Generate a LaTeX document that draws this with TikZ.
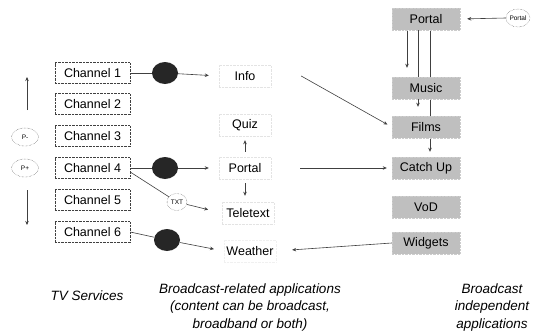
\documentclass[tikz,border=0pt]{standalone}
\usepackage{fontspec}
\setmainfont{Liberation Sans}
\usetikzlibrary{arrows.meta,shapes.geometric,backgrounds}
\begin{document}
\begin{tikzpicture}[x=1pt,y=-1pt,
 every node/.style={font=\fontsize{12.5}{15}\selectfont, inner sep=0pt},
 chan/.style={draw=gray!50!black, densely dotted, fill=white, minimum width=75pt, minimum height=21pt},
 app/.style={draw=gray!22, densely dotted, minimum width=52pt, minimum height=22pt},
 indep/.style={fill=gray!50, draw=gray!40, densely dotted, minimum width=68pt, minimum height=22pt},
 blob/.style={ellipse, fill=black!85, minimum width=26pt, minimum height=22pt},
 tag/.style={ellipse, draw=gray!50!black, densely dotted, fill=white, font=\fontsize{6.5}{7}\selectfont, minimum width=25pt, minimum height=18pt},
 conn/.style={draw=gray!50!black, line width=0.6pt, -{Stealth[length=4pt,width=3.5pt]}},
 plain/.style={draw=gray!50!black, line width=0.6pt},
 captext/.style={font=\fontsize{13.5}{17.5}\selectfont\itshape, align=center},
]
\useasboundingbox (0,0) rectangle (541,332);

% TV services
\node[chan] (ch1) at (92.5,73) {Channel 1};
\node[chan] (ch2) at (92.5,104) {Channel 2};
\node[chan] (ch3) at (92.5,136) {Channel 3};
\node[chan] (ch4) at (92.5,168) {Channel 4};
\node[chan] (ch5) at (92.5,200) {Channel 5};
\node[chan] (ch6) at (92.5,232) {Channel 6};

\node[tag, minimum width=27pt] (pm) at (25,137) {P-};
\node[tag, minimum width=27pt] (pp) at (25,168) {P+};
\coordinate (ua) at (27,110);
\coordinate (ub) at (27,77);
\coordinate (da) at (27,190);
\coordinate (db) at (27,225);
\draw[conn] (ua) -- (ub);
\draw[conn] (da) -- (db);

% broadcast-related apps
\node[app] (info) at (245,76) {Info};
\node[app] (quiz) at (245,125) {Quiz};
\node[app] (aportal) at (245,168) {Portal};
\node[app] (teletext) at (248,213) {Teletext};
\node[app, draw=gray!12] (weather) at (250,251) {Weather};

\node[blob] (b1) at (165,73) {};
\node[blob] (b4) at (165,168) {};
\node[blob] (b6) at (167,240) {};
\node[tag, minimum width=20pt, minimum height=17pt] (txt) at (177,202) {TXT};

% independent apps
\node[indep] (rportal) at (426,19) {Portal};
\node[indep] (music) at (426,88) {Music};
\node[indep] (films) at (426,127) {Films};
\node[indep] (catchup) at (426,168) {Catch Up};
\node[indep] (vod) at (426,207) {VoD};
\node[indep] (widgets) at (426,243) {Widgets};
\node[tag, minimum width=24pt] (pcirc) at (518,18) {Portal};

% connectors
\draw[plain] (ch1.east) -- (b1);
\draw[conn, shorten >=10pt] (b1) -- (info.west);
\draw[plain] (ch4.east) -- (b4);
\draw[conn, shorten >=10pt] (b4) -- (aportal.west);
\draw[plain] ([yshift=-4pt]ch4.east) -- (txt);
\draw[conn, shorten >=14pt] (txt) -- (teletext.west);
\draw[plain] (ch6.east) -- (b6);
\draw[conn, shorten >=10pt] (b6) -- (weather.west);
\draw[conn, shorten <=5pt, shorten >=4pt] (aportal.north) -- (quiz.south);
\draw[conn, shorten <=4pt, shorten >=6pt] (aportal.south) -- (aportal.south |- teletext.north);
\draw[conn, shorten >=5pt] ([xshift=30pt]info.east) -- (films.west);
\draw[conn, shorten >=5pt] ([xshift=29pt]aportal.east) -- (catchup.west);
\draw[conn, shorten >=16pt] (widgets.west) -- (weather.east);
\draw[conn, shorten >=7pt] (pcirc.west) -- (rportal.east);
\begin{scope}[on background layer]
\fill[white] (0,0) rectangle (541,332);
\draw[conn, shorten >=9pt] ([xshift=-19pt]rportal.south) -- ([xshift=-19pt]music.north);
\draw[conn, shorten >=9pt] ([xshift=-8pt]rportal.south) -- ([xshift=-8pt]films.north);
\draw[conn, shorten >=5pt] ([xshift=4pt]rportal.south) -- ([xshift=4pt]catchup.north);
\end{scope}

% captions
\node[captext] (c1) at (87,296) {TV Services};
\node[captext] (c2) at (250,307.5) {Broadcast-related applications\\(content can be broadcast,\\broadband or both)};
\node[captext] (c3) at (492,307.5) {Broadcast\\independent\\applications};
\end{tikzpicture}
\end{document}
